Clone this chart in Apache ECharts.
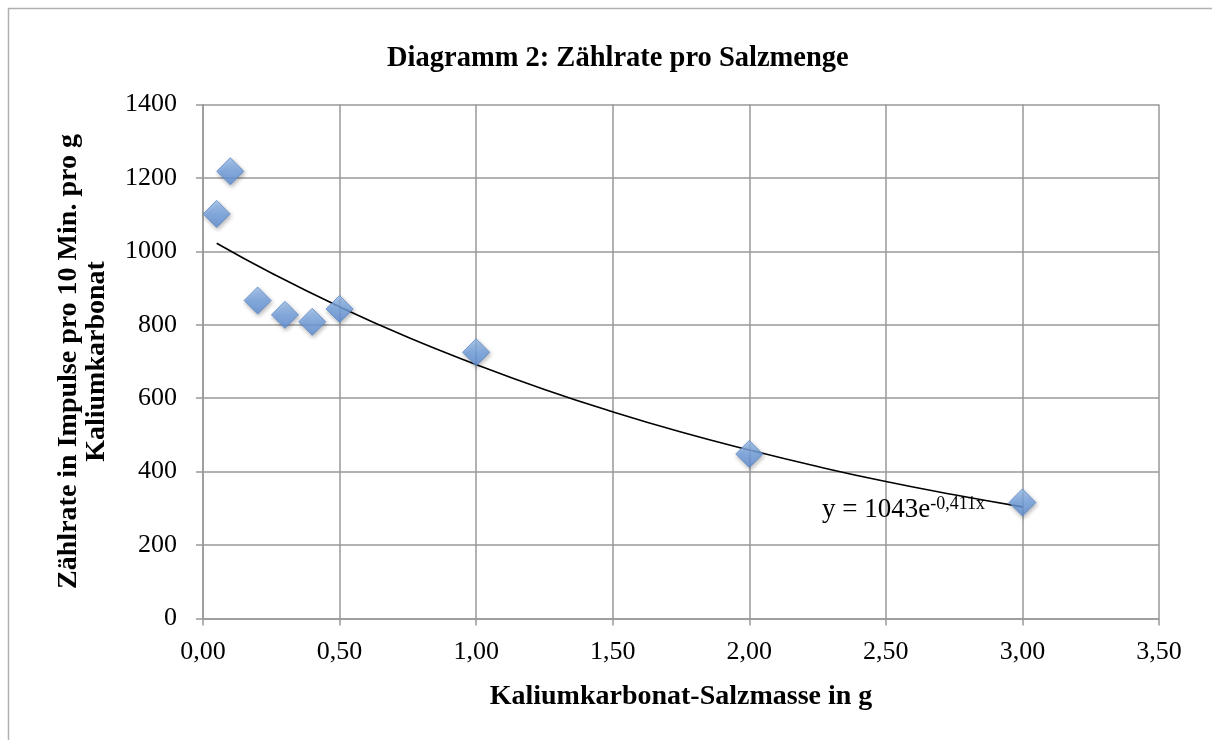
<!DOCTYPE html>
<html>
<head>
<meta charset="utf-8">
<script src="https://cdn.jsdelivr.net/npm/echarts@6/dist/echarts.min.js"></script>
<style>
html,body{margin:0;padding:0;background:#fff;}
#chart{width:1212px;height:740px;}
</style>
</head>
<body>
<div id="chart"></div>
<script>
// Measured data: salt mass (g) vs. count rate per 10 min per g
const massValues = [0.05, 0.1, 0.2, 0.3, 0.4, 0.5, 1.0, 2.0, 3.0];
const rateValues = [1102, 1218, 866, 827, 808, 843, 725, 448, 316];
// Exponential trendline
const trendX = [0.05, 0.25, 0.5, 0.75, 1.0, 1.25, 1.5, 1.75, 2.0, 2.25, 2.5, 2.75, 3.0];
const trendY = [1022, 941, 849, 766, 692, 624, 563, 508, 459, 414, 373, 337, 304];
const titleText = 'Diagramm 2: Zählrate pro Salzmenge';
const xTitle = 'Kaliumkarbonat-Salzmasse in g';
const yTitle = 'Zählrate in Impulse pro 10 Min. pro g\nKaliumkarbonat';

const FONT = '"Liberation Serif", "DejaVu Serif", serif';
const chart = echarts.init(document.getElementById('chart'), null, {renderer: 'canvas'});
const scatterData = massValues.map((x, i) => [x, rateValues[i]]);
const trendData = trendX.map((x, i) => [x, trendY[i]]);

chart.setOption({
  animation: false,
  backgroundColor: '#fff',
  title: {
    text: titleText,
    left: 382,
    top: 39,
    textStyle: {fontFamily: FONT, fontWeight: 'bold', fontSize: 28.5, color: '#000'}
  },
  grid: {left: 203, right: 53, top: 104.5, bottom: 121.5, containLabel: false},
  xAxis: {
    type: 'value',
    min: 0, max: 3.5, interval: 0.5,
    name: xTitle,
    nameLocation: 'middle',
    nameGap: 64,
    nameTextStyle: {fontFamily: FONT, fontWeight: 'bold', fontSize: 28, color: '#000'},
    axisLine: {show: true, lineStyle: {color: '#999', width: 1.5}},
    axisTick: {show: true, length: 7, lineStyle: {color: '#999', width: 1.5}},
    axisLabel: {
      fontFamily: FONT, fontSize: 26, color: '#000', margin: 21,
      formatter: v => v.toFixed(2).replace('.', ',')
    },
    splitLine: {show: true, lineStyle: {color: '#999', width: 1.5}}
  },
  yAxis: {
    type: 'value',
    min: 0, max: 1400, interval: 200,
    name: yTitle,
    nameLocation: 'middle',
    nameGap: 92,
    nameRotate: 90,
    nameTextStyle: {fontFamily: FONT, fontWeight: 'bold', fontSize: 28, color: '#000', lineHeight: 28, align: 'center'},
    axisLine: {show: true, lineStyle: {color: '#999', width: 1.5}},
    axisTick: {show: true, length: 7, lineStyle: {color: '#999', width: 1.5}},
    axisLabel: {fontFamily: FONT, fontSize: 26, color: '#000', margin: 26, formatter: v => String(v)},
    splitLine: {show: true, lineStyle: {color: '#999', width: 1.5}}
  },
  series: [
    {
      type: 'line',
      data: trendData,
      smooth: true,
      symbol: 'none',
      lineStyle: {color: '#000', width: 1.6},
      z: 2,
      silent: true
    },
    {
      type: 'scatter',
      data: scatterData,
      symbol: 'diamond',
      symbolSize: [27, 27],
      itemStyle: {
        color: new echarts.graphic.LinearGradient(0, 0, 0, 1, [
          {offset: 0, color: '#a2c6f3'},
          {offset: 0.5, color: '#74a3e2'},
          {offset: 1, color: '#5e8fd8'}
        ]),
        borderColor: '#5a87c8',
        borderWidth: 1,
        shadowColor: 'rgba(0,0,0,0.35)',
        shadowBlur: 4,
        shadowOffsetX: 1,
        shadowOffsetY: 2
      },
      z: 3
    }
  ],
  graphic: [
    {
      type: 'rect',
      shape: {x: 8.5, y: 8.5, width: 1220, height: 760},
      style: {fill: 'none', stroke: '#b0b0b0', lineWidth: 1.5},
      silent: true,
      z: -1
    },
    {
      type: 'text',
      x: 822,
      y: 495,
      style: {
        text: '{b|y = 1043e}{s|-0,411x}',
        rich: {
          b: {fontFamily: FONT, fontSize: 27, color: '#000', verticalAlign: 'bottom', lineHeight: 28},
          s: {fontFamily: FONT, fontSize: 18, color: '#000', verticalAlign: 'top', lineHeight: 28, padding: [0, 0, 11, 0]}
        }
      },
      z: 10
    }
  ]
});
</script>
</body>
</html>
